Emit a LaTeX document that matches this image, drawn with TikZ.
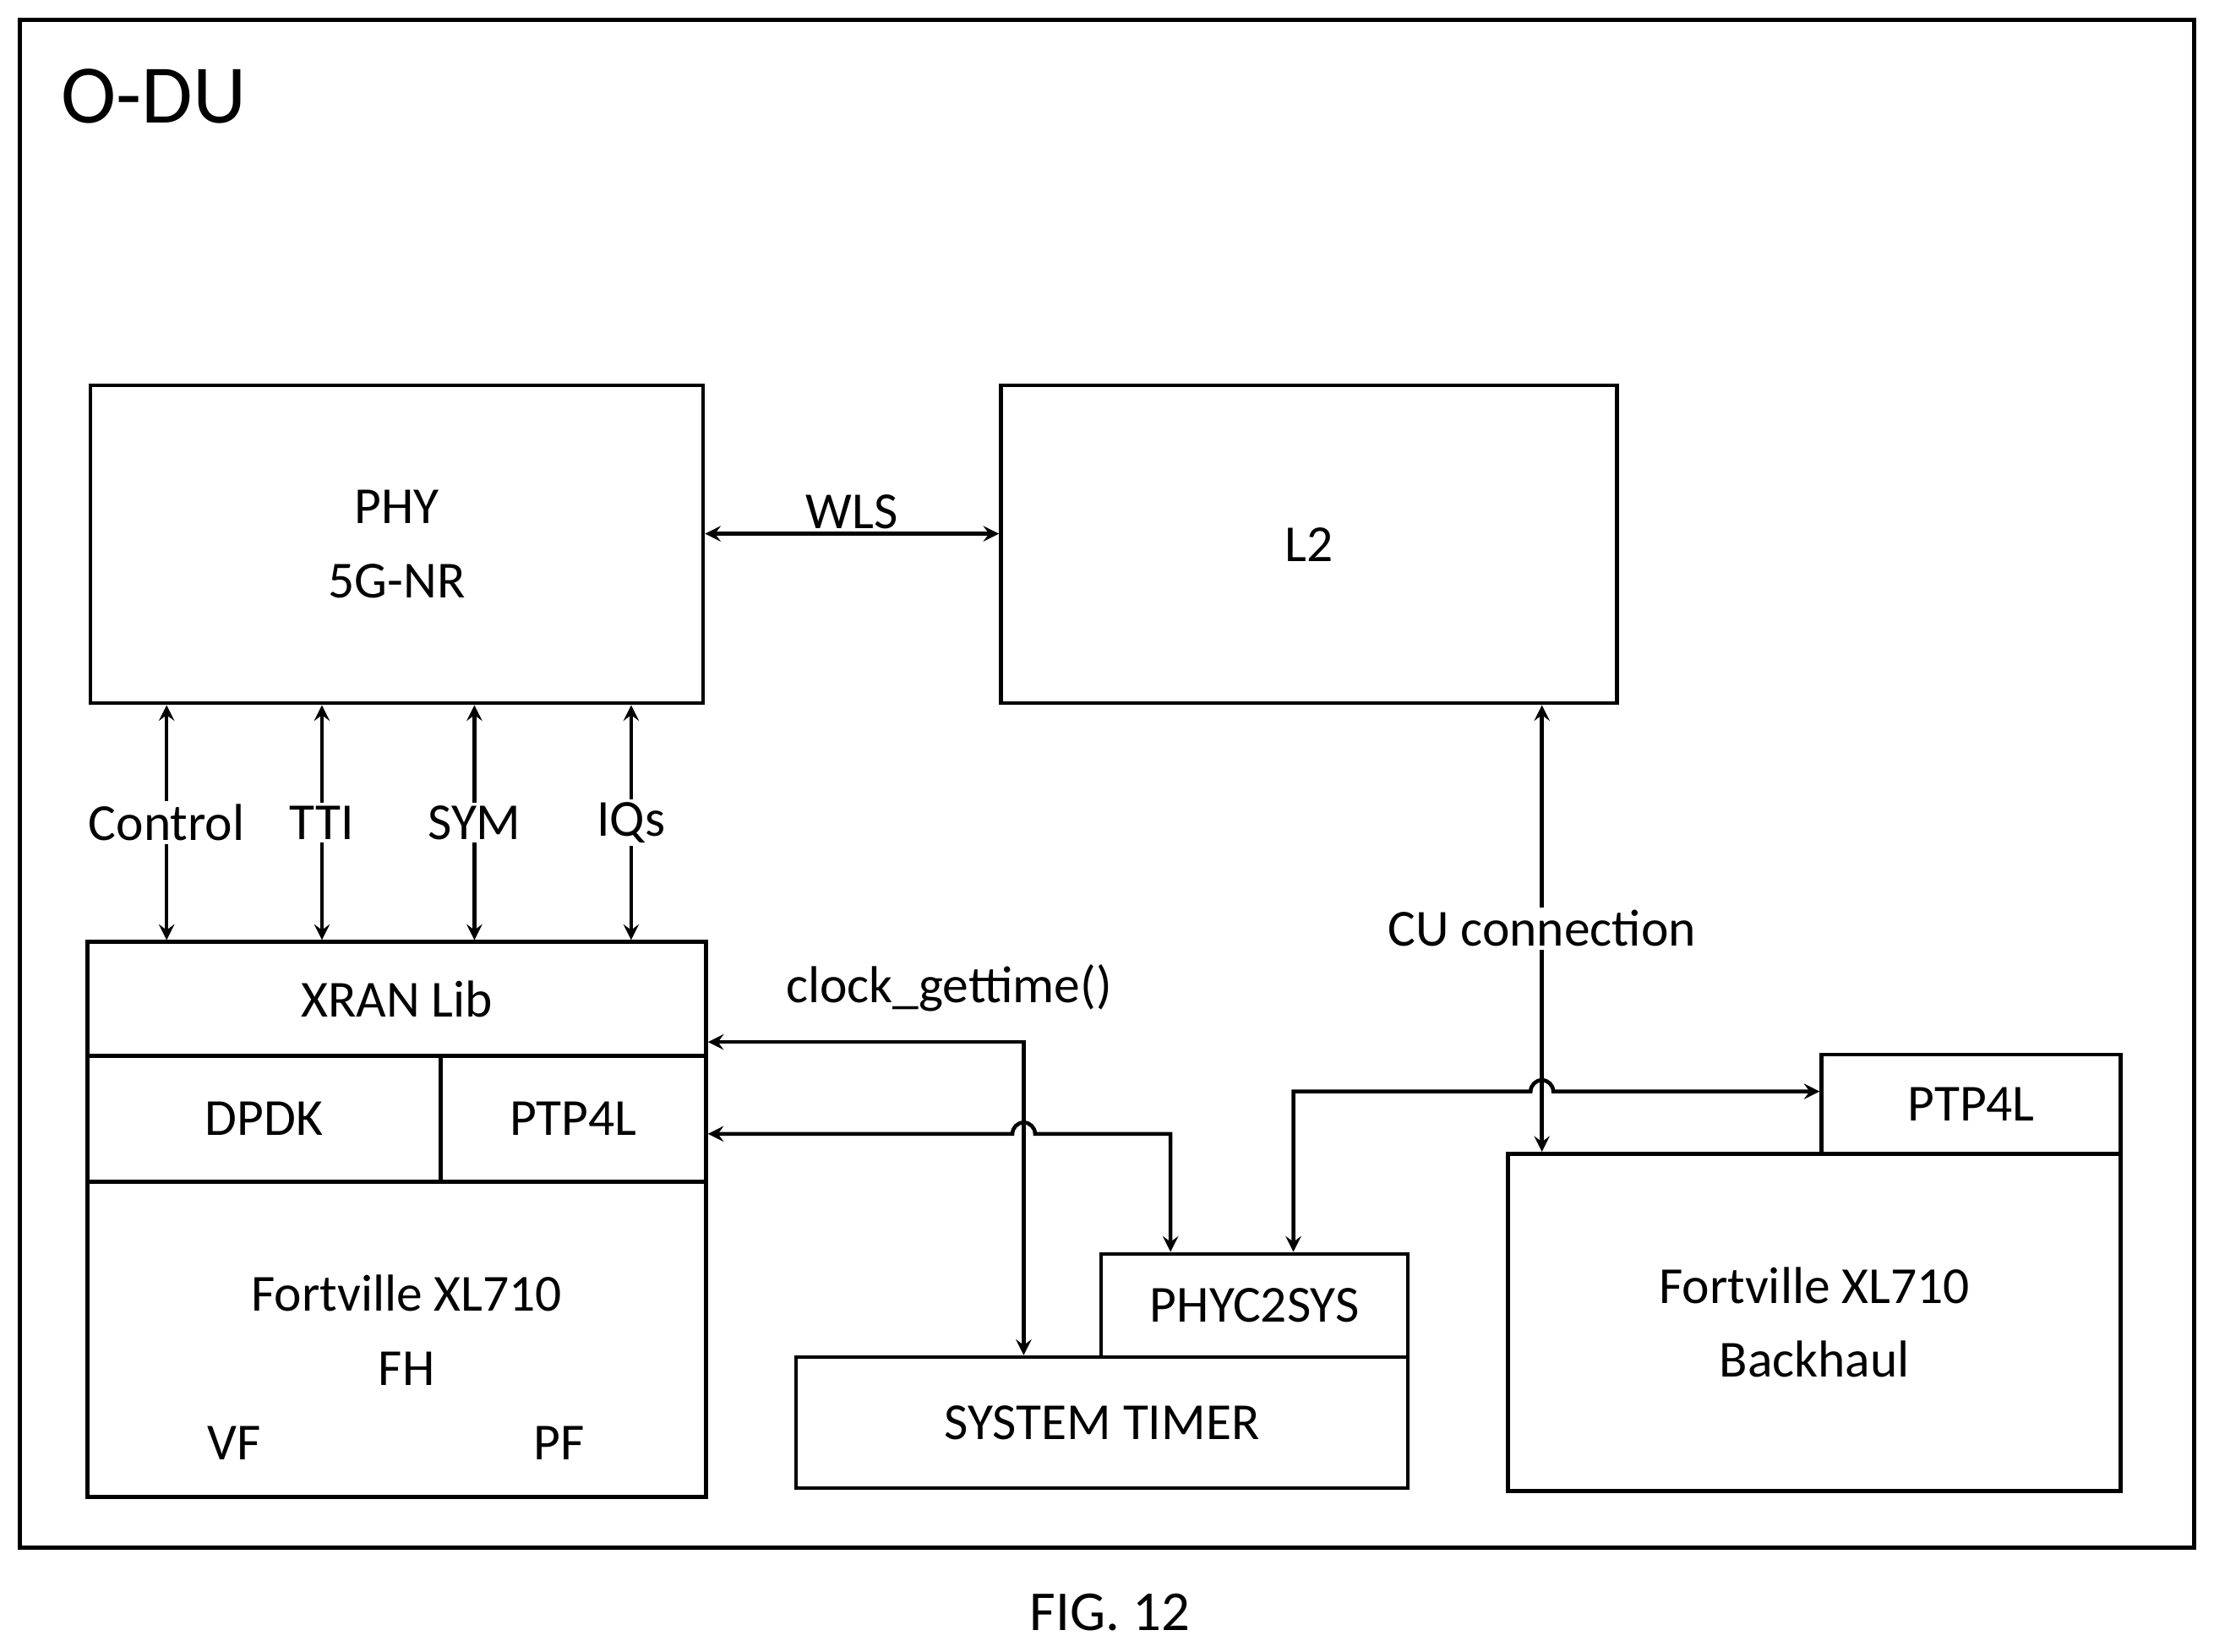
\documentclass[tikz,border=0pt]{standalone}
\usepackage{fontspec}
\setmainfont{Carlito}
\usetikzlibrary{arrows}
\tikzstyle{arrow} = [line width=1.3pt,<->,>=stealth]
\tikzstyle{box} = [draw=black,line width=1.3pt,inner sep=0pt,font=\fontsize{17.5}{25}\selectfont,align=center]
\tikzstyle{lbl} = [fill=white,inner sep=1pt,font=\fontsize{17.5}{25}\selectfont,align=center]

\begin{document}
\begin{tikzpicture}[x=0.01671cm,y=-0.01671cm]
    \useasboundingbox (0,0) rectangle (1568,1170);
    \draw[line width=1.3pt] (14,14) rectangle (1554,1096);
    \node[anchor=west,font=\fontsize{28}{30}\selectfont] (odu) at (36,68) {O-DU};

    \node[box,minimum width=7.25cm,minimum height=3.76cm] (phy) at (281,385.5) {PHY\\5G-NR};
    \node[box,minimum width=7.29cm,minimum height=3.76cm] (l2) at (927,385.5) {L2};
    \node[box,minimum width=7.32cm,minimum height=1.35cm] (xran) at (281,707.5) {XRAN Lib};
    \node[box,minimum width=4.18cm,minimum height=1.49cm] (dpdk) at (187,792.5) {DPDK};
    \node[box,minimum width=3.14cm,minimum height=1.49cm] (ptpl) at (406,792.5) {PTP4L};
    \node[box,minimum width=7.32cm,minimum height=3.73cm] (fh) at (281,948.5) {};
    \node[lbl] (fhtxt) at (288,942) {Fortville XL710\\FH};
    \node[lbl] (vf) at (166,1022) {VF};
    \node[lbl] (pf) at (396,1022) {PF};
    \node[box,minimum width=7.24cm,minimum height=1.55cm] (timer) at (780.5,1007.5) {SYSTEM TIMER};
    \node[box,minimum width=3.63cm,minimum height=1.22cm] (phyc) at (888.5,924.5) {PHYC2SYS};
    \node[box,minimum width=3.54cm,minimum height=1.17cm] (ptpr) at (1396,782) {PTP4L};
    \node[box,minimum width=7.25cm,minimum height=3.99cm] (bh) at (1285,936.5) {Fortville XL710\\Backhaul};

    % PHY <-> L2
    \draw[arrow] (phy.east |- 0,378) coordinate (w1) -- node[above,lbl,fill=none] {WLS} (w1 -| l2.west);

    % PHY <-> XRAN
    \foreach \i/\x/\t in {1/118/Control,2/228/TTI,3/336/SYM,4/447/IQs} {
        \coordinate (t\i) at (\x,0);
        \draw[arrow] (t\i |- phy.south) -- node[lbl] {\t} (t\i |- xran.north);
    }

    % L2 <-> backhaul
    \coordinate (cu) at (1092,0);
    \draw[arrow] (cu |- l2.south) -- node[lbl] {CU connection} (cu |- bh.north);

    % timing paths
    \coordinate (ck) at (725,738);
    \draw[arrow] (ck -| xran.east) -- (ck) -- (ck |- timer.north);
    \node[lbl] (cklbl) at (672,700) {clock\_gettime()};

    \coordinate (pk) at (829,803);
    \draw[arrow] (pk -| ptpl.east) -- (717,803) arc[start angle=180,end angle=0,radius=0.134cm] -- (pk) -- (pk |- phyc.north);

    \coordinate (pc) at (916,773);
    \draw[arrow] (pc |- phyc.north) -- (pc) -- (1084,773) arc[start angle=180,end angle=0,radius=0.134cm] -- (pc -| ptpr.west);

    \node[font=\fontsize{19}{21}\selectfont] (fig) at (786,1142) {FIG. 12};
\end{tikzpicture}
\end{document}
